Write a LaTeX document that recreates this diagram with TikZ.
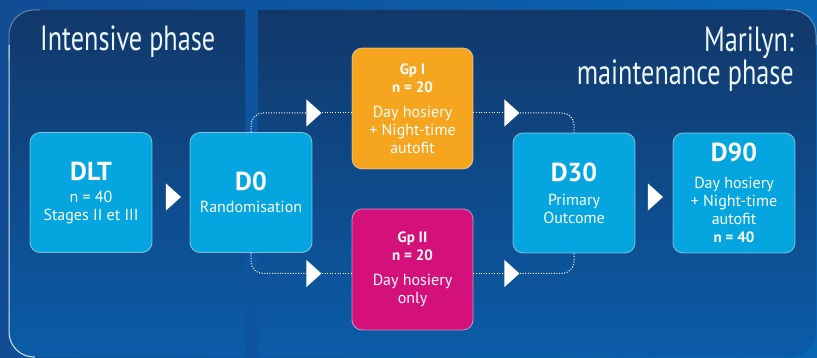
\documentclass[tikz,border=0pt]{standalone}
\usepackage{fontspec}
\setmainfont{PT Sans}
\newfontfamily\headfont[FakeStretch=0.75]{PT Sans}
\usepackage{tikz}
\usetikzlibrary{shapes.geometric,positioning,calc}
\definecolor{bgleft}{HTML}{114C94}
\definecolor{bgright}{HTML}{0867B5}
\definecolor{paneltop}{HTML}{12386A}
\definecolor{panelbot}{HTML}{0B5CA8}
\definecolor{boxcyan}{HTML}{05A6DF}
\definecolor{gporange}{HTML}{F6A51E}
\definecolor{gpmagenta}{HTML}{D4117B}
\newcommand{\boxhead}[1]{{\fontsize{26}{28}\selectfont\bfseries #1}}
\newcommand{\gphead}[1]{{\fontsize{15}{18}\selectfont\bfseries #1}}

\begin{document}
\begin{tikzpicture}
  [
    x=1pt, y=-1pt,
    Stage/.style={rectangle, rounded corners=10pt, fill=boxcyan, draw=white, draw opacity=0.5, line width=0.8pt,
      minimum width=122pt, minimum height=120pt, inner sep=0pt, text=white, align=center,
      font=\fontsize{16}{18}\selectfont},
    Group/.style={Stage, minimum width=121pt, minimum height=121pt},
    Tri/.style={isosceles triangle, isosceles triangle stretches, fill=white, inner sep=0pt,
      minimum width=27pt, minimum height=15pt},
    Link/.style={draw=white, line width=1pt, dash pattern=on 1pt off 1.6pt, rounded corners=12pt},
    Head/.style={text=white!92!boxcyan, inner sep=0pt, font=\headfont\fontsize{35}{28}\selectfont},
    Edge/.style={draw=white, line width=1pt, rounded corners=25pt}
  ]
  \useasboundingbox (0,0) rectangle (817,358);
  % Background and panels
  \shade[left color=bgleft, right color=bgright] (0,0) rectangle (817,358);
  \shade[top color=paneltop, bottom color=panelbot] (245,10) [rounded corners=25pt] -- (9,10) -- (9,357) [sharp corners] -- (245,357) -- cycle;
  \shade[top color=paneltop, bottom color=panelbot] (258,10) [rounded corners=25pt] -- (816,10) -- (816,357) [sharp corners] -- (258,357) -- cycle;
  \draw[Edge, draw opacity=0.35] (40,10) -- (9,10) -- (9,60);
  \draw[Edge, draw opacity=0.85] (9,45) -- (9,357) -- (35,357);
  \draw[Edge, draw opacity=0.35] (785,10) -- (816,10) -- (816,45);
  % Headings
  \node[Head, anchor=base west] (intensive) at (40,51) {Intensive phase};
  \node[Head, anchor=north east, align=right] (maintenance) at (794,27)
    {\lineskiplimit=-30pt\lineskip=0pt Marilyn:\\maintenance phase};
  % Nodes
  \node[Stage] (dlt) at (91,192.5) {\boxhead{DLT}\\[4pt] n = 40\\ Stages II et III};
  \node[Stage] (d0) at (251,192.5) {\boxhead{D0}\\[4pt] Randomisation};
  \node[Group, fill=gporange] (gp1) at (412.5,108.5) {\gphead{Gp I}\\ \gphead{n = 20}\\[7pt] Day hosiery\\ + Night-time\\ autofit};
  \node[Group, fill=gpmagenta] (gp2) at (412.5,269.5) {\gphead{Gp II}\\ \gphead{n = 20}\\[7pt] Day hosiery\\ only};
  \node[Stage] (d30) at (574,193) {\boxhead{D30}\\[6pt] Primary\\ Outcome};
  \node[Stage] (d90) at (734,193) {\boxhead{D90}\\[9pt] Day hosiery\\ + Night-time\\ autofit\\ \gphead{n = 40}};
  % Arrow heads
  \node[Tri] (t1) at (172,197) {};
  \node[Tri] (t2) at (312.5,113) {};
  \node[Tri] (t3) at (510.5,113) {};
  \node[Tri] (t4) at (312.5,273.5) {};
  \node[Tri] (t5) at (510.5,273.5) {};
  \node[Tri] (t6) at (654,197) {};
  % Lines
  \path[Link] (d0.north) |- (t2.west);
  \path[Link] (t2.east) -- (t2.east -| gp1.west);
  \path[Link] (t3.west -| gp1.east) -- (t3.west);
  \path[Link] (t3.east) -| (d30.north);
  \path[Link] (d0.south) |- (t4.west);
  \path[Link] (t4.east) -- (t4.east -| gp2.west);
  \path[Link] (t5.west -| gp2.east) -- (t5.west);
  \path[Link] (t5.east) -| (d30.south);
\end{tikzpicture}
\end{document}
